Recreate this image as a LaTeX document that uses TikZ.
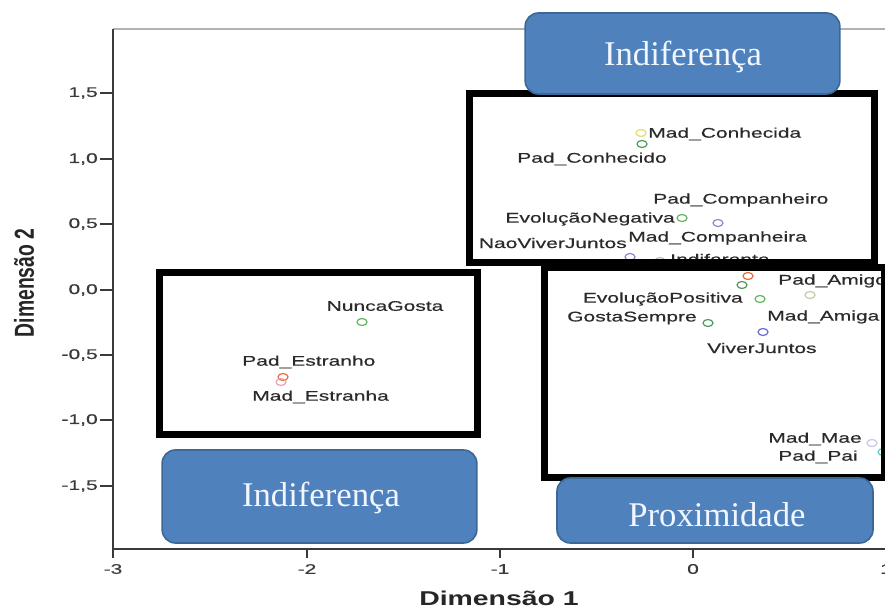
\documentclass[tikz,border=0pt]{standalone}
\usepackage{fontspec}
\setmainfont{Liberation Serif}
\newfontfamily\chartfont[FakeStretch=1.5,FakeBold=0.4]{Liberation Sans}
\newfontfamily\axisfont[FakeStretch=1.42]{Liberation Sans}
\newfontfamily\plainsans{Liberation Sans}
\usetikzlibrary{shapes.geometric}
\definecolor{boxblue}{HTML}{4F81BD}
\definecolor{boxedge}{HTML}{3B6896}
\definecolor{boxtext}{HTML}{F2F6FF}
\definecolor{labelgray}{HTML}{2A2A2A}
\definecolor{tickgray}{HTML}{3A3A3A}
\definecolor{mgreen}{HTML}{5FB85F}
\definecolor{mdgreen}{HTML}{4E9A5E}
\definecolor{mpurple}{HTML}{8A8AC8}
\definecolor{mblue}{HTML}{6A6AD0}
\definecolor{morange}{HTML}{E0703C}
\definecolor{mpink}{HTML}{F0A0B4}
\definecolor{myellow}{HTML}{E4DC70}
\definecolor{mgray}{HTML}{BDBDBD}
\definecolor{mkhaki}{HTML}{C8C8A4}
\definecolor{mlav}{HTML}{C8C8E6}
\definecolor{mcyan}{HTML}{5CCCC8}
\begin{document}
\begin{tikzpicture}[x=0.75pt,y=-0.75pt,
  lbl/.style={font=\chartfont\fontsize{10.5pt}{12pt}\selectfont, text=labelgray, inner sep=0pt},
  ticklbl/.style={font=\chartfont\fontsize{10.5pt}{12pt}\selectfont, text=tickgray, inner sep=0pt},
  mk/.style={ellipse, draw=#1, line width=0.9pt, minimum width=7.5pt, minimum height=5.25pt, inner sep=0pt},
  blackframe/.style={draw=black, line width=5.25pt},
  bluebox/.style={rounded corners=10pt, fill=boxblue, draw=boxedge, line width=1.2pt, inner sep=0pt},
  bluetext/.style={text=boxtext, font=\fontsize{26pt}{30pt}\selectfont, inner sep=0pt}
]
\useasboundingbox (0,0) rectangle (885,609);
\clip (0,0) rectangle (885,609);
\fill[white] (0,0) rectangle (885,609);

% chart frame and axes
\draw[gray!60, line width=1.2pt] (113,29) -- (885,29);
\draw[tickgray, line width=1.2pt] (113,29) -- (113,549) -- (885,549);

\foreach \y/\t [count=\i] in {93/{1,5},159/{1,0},224/{0,5},290/{0,0},355/{-0,5},420/{-1,0},486/{-1,5}}{
  \draw[tickgray, line width=1pt] (100,\y) -- (113,\y);
  \node[ticklbl, anchor=east] (yt\i) at (98,\y) {\t};
}
\foreach \x/\t [count=\i] in {113/-3,307/-2,500/-1,693/0,886/1}{
  \draw[tickgray, line width=1pt] (\x,549) -- (\x,558);
  \node[ticklbl] (xt\i) at (\x,569) {\t};
}

\node[font=\axisfont\bfseries\fontsize{15pt}{18pt}\selectfont, text=black!85, inner sep=0pt] (xtitle) at (499,598) {Dimensão 1};
\node[rotate=90, text=black!85, inner sep=0pt] (ytitle) at (24,283) {\scalebox{1}[1.42]{\plainsans\bfseries\fontsize{14.5pt}{17pt}\selectfont Dimensão 2}};

% markers
\node[mk=myellow] (m1) at (641,133) {};
\node[mk=mdgreen] (m2) at (642,144) {};
\node[mk=mgreen] (m3) at (682,218) {};
\node[mk=mpurple] (m4) at (718,223) {};
\node[mk=mpurple] (m5) at (630,257) {};
\node[mk=mgray] (m6) at (660,261) {};
\node[mk=morange] (m7) at (748,276) {};
\node[mk=mdgreen] (m8) at (742,285) {};
\node[mk=mkhaki] (m9) at (810,295) {};
\node[mk=mgreen] (m10) at (760,299) {};
\node[mk=mdgreen] (m11) at (708,323) {};
\node[mk=mblue] (m12) at (763,332) {};
\node[mk=mgreen] (m13) at (362,322) {};
\node[mk=morange] (m14) at (283,377) {};
\node[mk=mpink] (m15) at (281,382) {};
\node[mk=mlav] (m16) at (872,443) {};
\node[mk=mcyan] (m17) at (883,452) {};

% labels
\node[lbl, anchor=west] (l1) at (648,134) {Mad\_Conhecida};
\node[lbl, anchor=east] (l2) at (667,159) {Pad\_Conhecido};
\node[lbl, anchor=west] (l3) at (653,200) {Pad\_Companheiro};
\node[lbl, anchor=east] (l4) at (675,219) {EvoluçãoNegativa};
\node[lbl, anchor=east] (l5) at (627,243) {NaoViverJuntos};
\node[lbl, anchor=west] (l6) at (628,238) {Mad\_Companheira};
\node[lbl, anchor=west] (l7) at (670,259) {Indiferente};
\node[lbl, anchor=west] (l8) at (778,281) {Pad\_Amigo};
\node[lbl, anchor=east] (l9) at (743,299) {EvoluçãoPositiva};
\node[lbl, anchor=east] (l10) at (697,318) {GostaSempre};
\node[lbl, anchor=west] (l11) at (767,317) {Mad\_Amiga};
\node[lbl, anchor=west] (l12) at (707,348) {ViverJuntos};
\node[lbl] (l13) at (385,306) {NuncaGosta};
\node[lbl, anchor=west] (l14) at (242,362) {Pad\_Estranho};
\node[lbl, anchor=west] (l15) at (252,397) {Mad\_Estranha};
\node[lbl, anchor=east] (l16) at (862,439) {Mad\_Mae};
\node[lbl, anchor=east] (l17) at (858,457) {Pad\_Pai};

% thick black group frames
\draw[blackframe] (469,94) rectangle (874,263);
\draw[blackframe] (159,273) rectangle (477,434);
\draw[blackframe] (544,268) rectangle (884,477);

% blue callouts
\node[bluebox, minimum width=236pt, minimum height=60.75pt] (b1) at (682.5,53.5) {};
\node[bluebox, minimum width=236pt, minimum height=69.75pt] (b2) at (319.5,496.5) {};
\node[bluebox, minimum width=237pt, minimum height=48.75pt] (b3) at (715,510.5) {};
\node[bluetext] (b1t) at (683,57) {Indiferença};
\node[bluetext] (b2t) at (321,498) {Indiferença};
\node[bluetext] (b3t) at (717,515) {Proximidade};
\end{tikzpicture}
\end{document}
